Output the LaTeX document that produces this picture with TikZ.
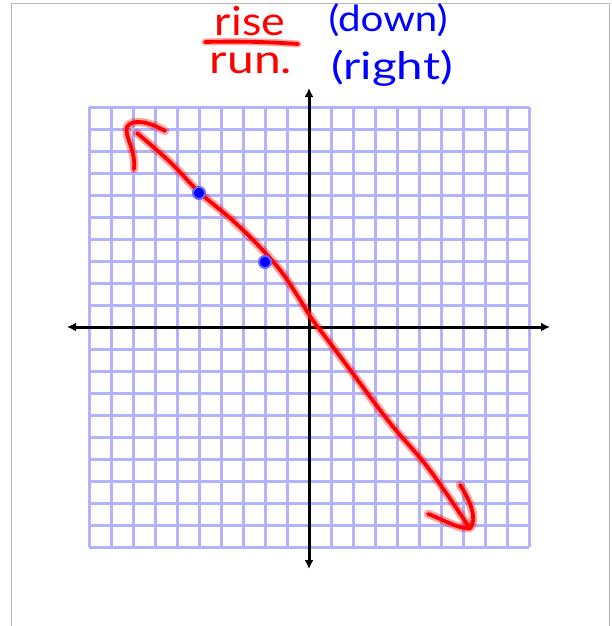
\documentclass[tikz,border=0pt]{standalone}
\usepackage{fontspec}
\setmainfont{Lato}
\usetikzlibrary{arrows.meta}
\begin{document}
\begin{tikzpicture}[x=1pt,y=-1pt,
  gridline/.style={draw=blue!30, line width=3pt},
  axis/.style={black, line width=3pt, {Latex[length=9pt,width=9pt]}-{Latex[length=9pt,width=9pt]}},
  redglow/.style={red, opacity=0.35, line width=8.5pt, line cap=round, line join=round},
  redink/.style={red, line width=3.8pt, line cap=round, line join=round},
  blueink/.style={text=blue},
  redtext/.style={text=red},
  frame/.style={draw=gray!55, line width=1pt},
  dot/.style={fill=blue, draw=blue!60, line width=2pt}
]
\useasboundingbox (0,0) rectangle (611,626);
% frame
\draw[frame] (11,626) -- (11,4) -- (609,4) -- (609,626);
% grid
\foreach \i in {0,...,20} {
  \draw[gridline] ({89+22*\i},107) -- ({89+22*\i},547);
  \draw[gridline] (89,{107+22*\i}) -- (529,{107+22*\i});
}
% axes
\coordinate (xl) at (67,327);
\coordinate (xr) at (550,327);
\coordinate (yt) at (309,88);
\coordinate (yb) at (309,569);
\draw[axis] (xl) -- (xr);
\draw[axis] (yt) -- (yb);
% red line
\def\redpath{(137,133) (170,162) (199,192) (230,218) (256,243) (280,270) (297,295) (312,319) (330,343) (351,371) (390,423) (429,469) (469,527)}
\foreach \s in {redglow,redink} {
  \draw[\s] plot[smooth, tension=0.6] coordinates {\redpath};
  \draw[\s] (165,131) .. controls (150,122) and (132,118) .. (127,127) .. controls (124,136) and (136,150) .. (134,169);
  \draw[\s] (460,485) .. controls (470,500) and (478,520) .. (470,528) .. controls (460,530) and (440,518) .. (428,514);
}
% blue points
\node[dot, circle, inner sep=0pt, minimum size=12pt] (p1) at (199,193) {};
\node[dot, circle, inner sep=0pt, minimum size=12pt] (p2) at (265,262) {};
% text
\node[redtext, font=\fontsize{40}{40}\selectfont] (rise) at (250,21) {\scalebox{1.12}[1]{rise}};
\draw[redglow, line width=7pt] (205,42) .. controls (240,41) and (270,42) .. (298,44);
\draw[redink] (205,42) .. controls (240,41) and (270,42) .. (298,44);
\node[redtext, font=\fontsize{40}{40}\selectfont] (run) at (251,63) {\scalebox{1.2}[1]{run.}};
\node[blueink, font=\fontsize{36}{36}\selectfont] (down) at (388,20) {\scalebox{1.12}[1]{(down)}};
\node[blueink, font=\fontsize{38}{38}\selectfont] (right) at (392,68) {\scalebox{1.25}[1]{(right)}};
\end{tikzpicture}
\end{document}
